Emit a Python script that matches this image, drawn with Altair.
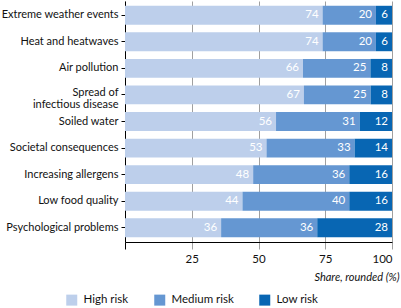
import altair as alt
import pandas as pd

categories = [
    "Extreme weather events",
    "Heat and heatwaves",
    "Air pollution",
    "Spread of infectious disease",
    "Soiled water",
    "Societal consequences",
    "Increasing allergens",
    "Low food quality",
    "Psychological problems",
]
high = [74, 74, 66, 67, 56, 53, 48, 44, 36]
medium = [20, 20, 25, 25, 31, 33, 36, 40, 36]
low = [6, 6, 8, 8, 12, 14, 16, 16, 28]

risks = ["High risk", "Medium risk", "Low risk"]
colors = ["#bdcfeb", "#6597d2", "#0866b3"]

rows = []
for i, c in enumerate(categories):
    for j, (r, vals) in enumerate(zip(risks, [high, medium, low])):
        rows.append({"category": c, "risk": r, "order": j, "value": vals[i]})
df = pd.DataFrame(rows)

FONT = "Lato"
FS = 11

base = alt.Chart(df).transform_stack(
    stack="value",
    groupby=["category"],
    as_=["v0", "v1"],
    offset="normalize",
    sort=[alt.SortField("order", order="ascending")],
)

y_enc = alt.Y(
    "category:N",
    sort=categories,
    scale=alt.Scale(paddingInner=0.29, paddingOuter=0.18),
    axis=alt.Axis(
        title=None,
        labelExpr="datum.label == 'Spread of infectious disease' ? ['Spread of', 'infectious disease'] : datum.label",
        labelLineHeight=12,
        labelFontSize=FS,
        labelFont=FONT,
        labelColor="#111111",
        labelPadding=3,
        labelOffset={"condition": {"test": "datum.label == 'Spread of infectious disease'", "value": -2}, "value": 0},
        tickSize=4,
        tickColor="black",
        domainColor="black",
        grid=False,
        labelLimit=200,
    ),
)

bars = base.mark_bar().encode(
    x=alt.X(
        "v0:Q",
        scale=alt.Scale(domain=[0, 1], nice=False, zero=True),
        axis=alt.Axis(
            values=[0, 0.25, 0.5, 0.75, 1],
            labelExpr="datum.value == 0 ? '' : format(datum.value * 100, 'd')",
            title="Share, rounded (%)",
            titleFont=FONT,
            titleFontStyle="italic",
            titleFontWeight="normal",
            titleFontSize=FS,
            titleColor="#111111",
            titleAlign="right",
            titleAnchor="end",
            titleX=274,
            titleY=35,
            titleBaseline="middle",
            labelFont=FONT,
            labelFontSize=FS + 0.5,
            labelColor="#111111",
            labelPadding=4,
            tickSize=7,
            tickColor={"condition": {"test": "datum.value == 0", "value": "black"}, "value": "#a0a0a0"},
            domainColor="black",
            grid=True,
            gridColor="#a0a0a0",
        ),
    ),
    x2="v1:Q",
    y=y_enc,
    color=alt.Color(
        "risk:N",
        scale=alt.Scale(domain=risks, range=colors),
        legend=alt.Legend(
            title=None,
            orient="none",
            direction="horizontal",
            legendX=-59,
            legendY=293,
            symbolType="square",
            symbolSize=121,
            symbolStrokeWidth=0,
            symbolOpacity=1,
            labelFont=FONT,
            labelFontSize=FS + 0.5,
            labelColor="#111111",
            labelOffset=6,
            columnPadding=25,
        ),
    ),
)

text = base.mark_text(
    align="right", baseline="middle", dx=-4, color="white", font=FONT, fontSize=FS + 0.5
).encode(
    x=alt.X("v1:Q"),
    y=alt.Y("category:N", sort=categories),
    text=alt.Text("value:Q", format="d"),
)

chart = (
    alt.layer(bars, text)
    .properties(
        width=267,
        height=241,
        autosize=alt.AutoSizeParams(type="none"),
        padding={"left": 125, "top": 1, "right": 9, "bottom": 66},
        background="white",
    )
    .configure_view(stroke=None)
)

chart.save("out.html", embed_options={"renderer": "svg", "actions": False})
